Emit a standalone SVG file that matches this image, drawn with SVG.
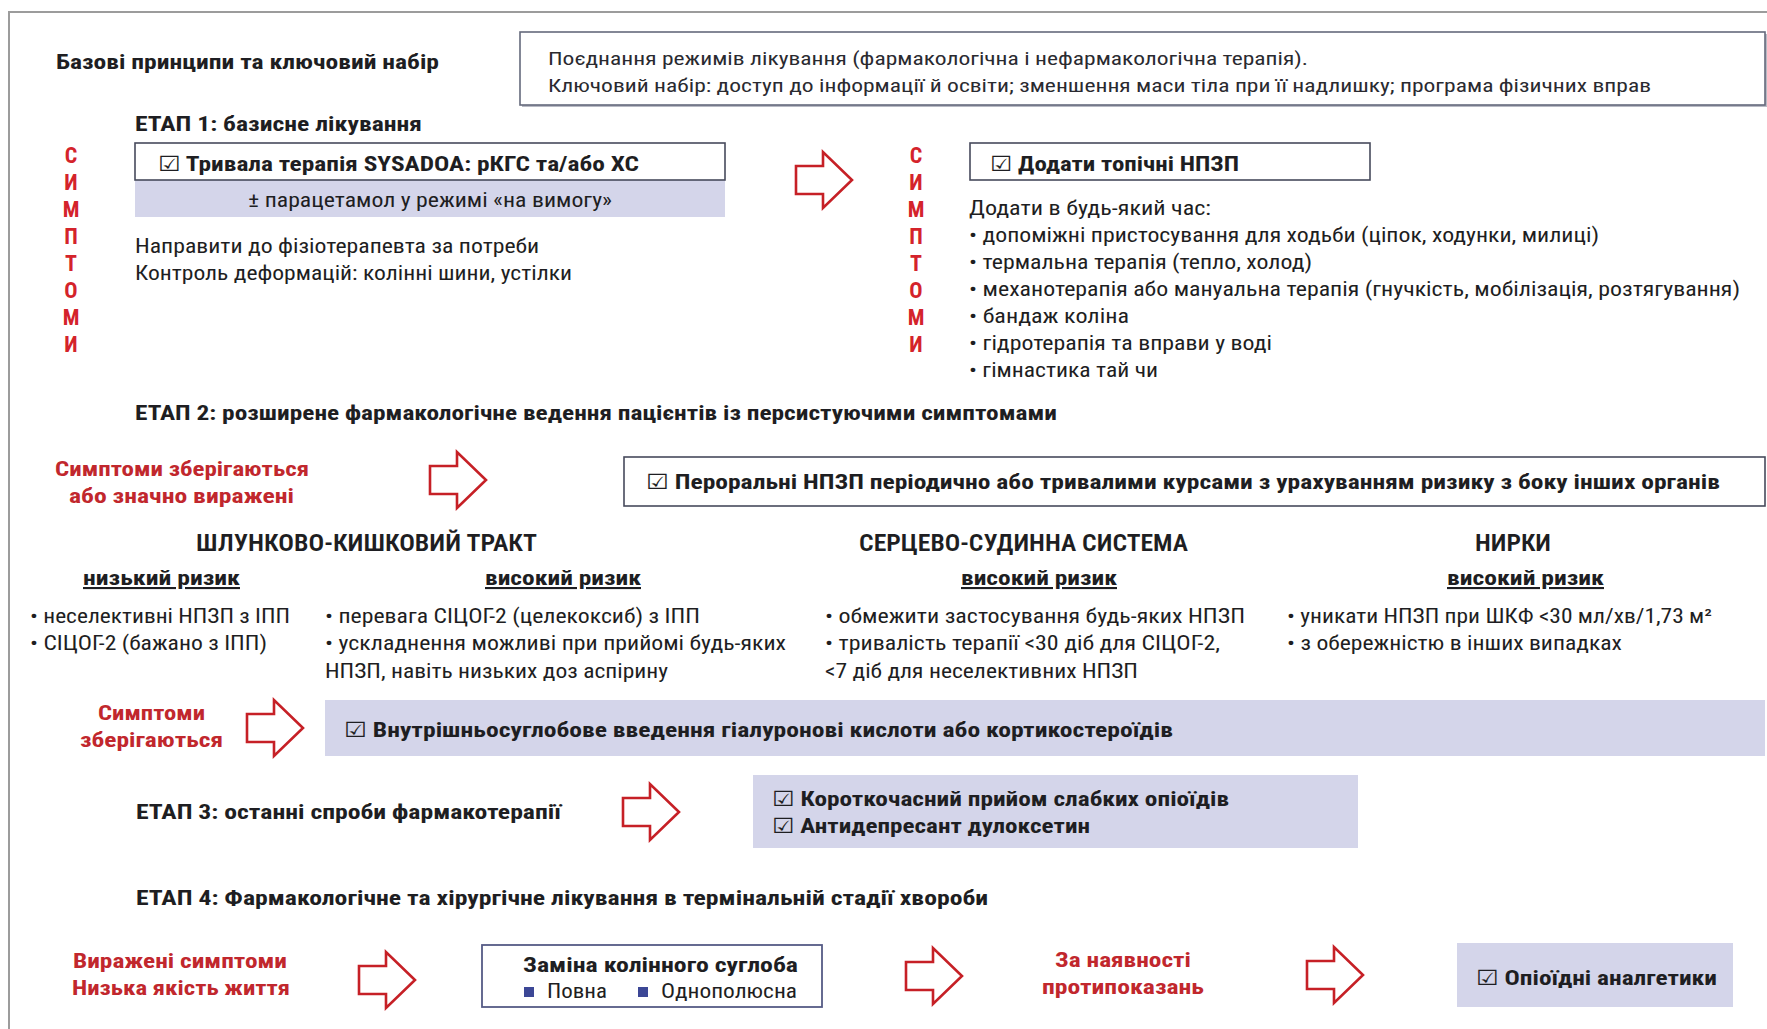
<svg xmlns="http://www.w3.org/2000/svg" xmlns:xlink="http://www.w3.org/1999/xlink" width="1767" height="1029" viewBox="0 0 1767 1029">
<style>
text{font-family:"Roboto Condensed","Liberation Sans Narrow","Roboto","Liberation Sans","DejaVu Sans",sans-serif;fill:#1e1e22}
.r{font-size:20px;font-weight:400}
.t{font-size:19px;font-weight:400;fill:#2a2a30}
.b{font-size:21px;font-weight:700}
.h{font-size:23px;font-weight:600}
.u{font-size:21px;font-weight:700;text-decoration:underline}
.red{font-size:21px;font-weight:700;fill:#c1272d}
.vert{font-size:22px;font-weight:700;fill:#d4232b;text-anchor:middle}
.box{fill:#fff;stroke:#474a5c;stroke-width:1.6}
.lav{fill:#d4d5ea}
.arrow{fill:#fff;stroke:#c62026;stroke-width:2.6;stroke-linejoin:miter}
</style>
<defs>
<path id="arr" class="arrow" d="M0,-14 H27 V-28 L56,0 L27,28 V14 H0 Z"/>
</defs>
<rect width="1767" height="1029" fill="#fff"/>
<path d="M9,1029 V12 H1767" fill="none" stroke="#9c9c9c" stroke-width="2"/>

<g id="title">
<text class="b" x="56" y="69" textLength="383" lengthAdjust="spacingAndGlyphs">Базові принципи та ключовий набір</text>
</g>
<g id="principles">
<rect x="522" y="34" width="1245" height="73" fill="#b8bac4"/>
<rect x="520" y="32" width="1245" height="73" fill="#fff" stroke="#656a7c" stroke-width="1.6"/>
<text class="t" x="548" y="65" textLength="760" lengthAdjust="spacingAndGlyphs">Поєднання режимів лікування (фармакологічна і нефармакологічна терапія).</text>
<text class="t" x="548" y="92" textLength="1103" lengthAdjust="spacingAndGlyphs">Ключовий набір: доступ до інформації й освіти; зменшення маси тіла при її надлишку; програма фізичних вправ</text>
</g>

<g id="stage1-title">
<text class="b" x="135" y="131" textLength="287" lengthAdjust="spacingAndGlyphs">ЕТАП 1: базисне лікування</text>
</g>
<g id="symptoms-left">
<text class="vert" x="71" y="163">С</text>
<text class="vert" x="71" y="190">И</text>
<text class="vert" x="71" y="217">М</text>
<text class="vert" x="71" y="244">П</text>
<text class="vert" x="71" y="271">Т</text>
<text class="vert" x="71" y="298">О</text>
<text class="vert" x="71" y="325">М</text>
<text class="vert" x="71" y="352">И</text>
</g>
<g id="sysadoa">
<rect class="lav" x="135" y="180" width="590" height="37"/>
<rect class="box" x="135" y="143" width="590" height="37"/>
<text class="b" x="158" y="171" textLength="481" lengthAdjust="spacingAndGlyphs">☑ Тривала терапія SYSADOA: рКГС та/або ХС</text>
<text class="r" x="248" y="207" textLength="364" lengthAdjust="spacingAndGlyphs">± парацетамол у режимі «на вимогу»</text>
</g>
<g id="stage1-notes">
<text class="r" x="135" y="253" textLength="404" lengthAdjust="spacingAndGlyphs">Направити до фізіотерапевта за потреби</text>
<text class="r" x="135" y="280" textLength="437" lengthAdjust="spacingAndGlyphs">Контроль деформацій: колінні шини, устілки</text>
</g>
<g id="symptoms-right">
<text class="vert" x="916" y="163">С</text>
<text class="vert" x="916" y="190">И</text>
<text class="vert" x="916" y="217">М</text>
<text class="vert" x="916" y="244">П</text>
<text class="vert" x="916" y="271">Т</text>
<text class="vert" x="916" y="298">О</text>
<text class="vert" x="916" y="325">М</text>
<text class="vert" x="916" y="352">И</text>
</g>
<g id="topical">
<rect class="box" x="970" y="143" width="400" height="37"/>
<text class="b" x="990" y="171" textLength="249" lengthAdjust="spacingAndGlyphs">☑ Додати топічні НПЗП</text>
</g>
<g id="anytime">
<text class="r" x="969" y="215" textLength="242" lengthAdjust="spacingAndGlyphs">Додати в будь-який час:</text>
<text class="r" x="969" y="242" textLength="630" lengthAdjust="spacingAndGlyphs">• допоміжні пристосування для ходьби (ціпок, ходунки, милиці)</text>
<text class="r" x="969" y="269" textLength="343" lengthAdjust="spacingAndGlyphs">• термальна терапія (тепло, холод)</text>
<text class="r" x="969" y="296" textLength="771" lengthAdjust="spacingAndGlyphs">• механотерапія або мануальна терапія (гнучкість, мобілізація, розтягування)</text>
<text class="r" x="969" y="323" textLength="160" lengthAdjust="spacingAndGlyphs">• бандаж коліна</text>
<text class="r" x="969" y="350" textLength="303" lengthAdjust="spacingAndGlyphs">• гідротерапія та вправи у воді</text>
<text class="r" x="969" y="377" textLength="189" lengthAdjust="spacingAndGlyphs">• гімнастика тай чи</text>
</g>

<g id="stage2-title">
<text class="b" x="135" y="420" textLength="922" lengthAdjust="spacingAndGlyphs">ЕТАП 2: розширене фармакологічне ведення пацієнтів із персистуючими симптомами</text>
</g>
<g id="persist1">
<text class="red" x="55" y="476" textLength="254" lengthAdjust="spacingAndGlyphs">Симптоми зберігаються</text>
<text class="red" x="69" y="503" textLength="225" lengthAdjust="spacingAndGlyphs">або значно виражені</text>
</g>
<g id="oral-nsaid">
<rect class="box" x="624" y="457" width="1141" height="49"/>
<text class="b" x="646" y="489" textLength="1074" lengthAdjust="spacingAndGlyphs">☑ Пероральні НПЗП періодично або тривалими курсами з урахуванням ризику з боку інших органів</text>
</g>
<g id="gi">
<text class="h" x="196" y="551" textLength="341" lengthAdjust="spacingAndGlyphs">ШЛУНКОВО-КИШКОВИЙ ТРАКТ</text>
<text class="u" x="83" y="585" textLength="157" lengthAdjust="spacingAndGlyphs">низький ризик</text>
<text class="u" x="485" y="585" textLength="156" lengthAdjust="spacingAndGlyphs">високий ризик</text>
<text class="r" x="30" y="623" textLength="260" lengthAdjust="spacingAndGlyphs">• неселективні НПЗП з ІПП</text>
<text class="r" x="30" y="650" textLength="237" lengthAdjust="spacingAndGlyphs">• СІЦОГ-2 (бажано з ІПП)</text>
<text class="r" x="325" y="623" textLength="375" lengthAdjust="spacingAndGlyphs">• перевага СІЦОГ-2 (целекоксиб) з ІПП</text>
<text class="r" x="325" y="650" textLength="461" lengthAdjust="spacingAndGlyphs">• ускладнення можливі при прийомі будь-яких</text>
<text class="r" x="325" y="678" textLength="343" lengthAdjust="spacingAndGlyphs">НПЗП, навіть низьких доз аспірину</text>
</g>
<g id="cv">
<text class="h" x="859" y="551" textLength="329" lengthAdjust="spacingAndGlyphs">СЕРЦЕВО-СУДИННА СИСТЕМА</text>
<text class="u" x="961" y="585" textLength="156" lengthAdjust="spacingAndGlyphs">високий ризик</text>
<text class="r" x="825" y="623" textLength="420" lengthAdjust="spacingAndGlyphs">• обмежити застосування будь-яких НПЗП</text>
<text class="r" x="825" y="650" textLength="395" lengthAdjust="spacingAndGlyphs">• тривалість терапії &lt;30 діб для СІЦОГ-2,</text>
<text class="r" x="825" y="678" textLength="313" lengthAdjust="spacingAndGlyphs">&lt;7 діб для неселективних НПЗП</text>
</g>
<g id="kidney">
<text class="h" x="1475" y="551" textLength="76" lengthAdjust="spacingAndGlyphs">НИРКИ</text>
<text class="u" x="1447" y="585" textLength="157" lengthAdjust="spacingAndGlyphs">високий ризик</text>
<text class="r" x="1287" y="623" textLength="425" lengthAdjust="spacingAndGlyphs">• уникати НПЗП при ШКФ &lt;30 мл/хв/1,73 м²</text>
<text class="r" x="1287" y="650" textLength="335" lengthAdjust="spacingAndGlyphs">• з обережністю в інших випадках</text>
</g>
<g id="persist2">
<text class="red" x="98" y="720" textLength="107" lengthAdjust="spacingAndGlyphs">Симптоми</text>
<text class="red" x="80" y="747" textLength="143" lengthAdjust="spacingAndGlyphs">зберігаються</text>
</g>
<g id="intraarticular">
<rect class="lav" x="325" y="700" width="1440" height="56"/>
<text class="b" x="344" y="737" textLength="829" lengthAdjust="spacingAndGlyphs">☑ Внутрішньосуглобове введення гіалуронові кислоти або кортикостероїдів</text>
</g>

<g id="stage3-title">
<text class="b" x="136" y="819" textLength="425" lengthAdjust="spacingAndGlyphs">ЕТАП 3: останні спроби фармакотерапії</text>
</g>
<g id="opioids-weak">
<rect class="lav" x="753" y="775" width="605" height="73"/>
<text class="b" x="772" y="806" textLength="457" lengthAdjust="spacingAndGlyphs">☑ Короткочасний прийом слабких опіоїдів</text>
<text class="b" x="772" y="833" textLength="318" lengthAdjust="spacingAndGlyphs">☑ Антидепресант дулоксетин</text>
</g>

<g id="stage4-title">
<text class="b" x="136" y="905" textLength="852" lengthAdjust="spacingAndGlyphs">ЕТАП 4: Фармакологічне та хірургічне лікування в термінальній стадії хвороби</text>
</g>
<g id="severe">
<text class="red" x="73" y="968" textLength="214" lengthAdjust="spacingAndGlyphs">Виражені симптоми</text>
<text class="red" x="72" y="995" textLength="218" lengthAdjust="spacingAndGlyphs">Низька якість життя</text>
</g>
<g id="knee-replacement">
<rect x="482" y="945" width="340" height="62" fill="#fff" stroke="#565b86" stroke-width="1.8"/>
<text class="b" x="523" y="972" textLength="275" lengthAdjust="spacingAndGlyphs">Заміна колінного суглоба</text>
<rect x="524" y="987" width="10" height="10" fill="#3c4796"/>
<text class="r" x="547" y="998" textLength="60" lengthAdjust="spacingAndGlyphs">Повна</text>
<rect x="638" y="987" width="10" height="10" fill="#3c4796"/>
<text class="r" x="661" y="998" textLength="136" lengthAdjust="spacingAndGlyphs">Однополюсна</text>
</g>
<g id="contraindications">
<text class="red" x="1055" y="967" textLength="136" lengthAdjust="spacingAndGlyphs">За наявності</text>
<text class="red" x="1042" y="994" textLength="162" lengthAdjust="spacingAndGlyphs">протипоказань</text>
</g>
<g id="opioids">
<rect class="lav" x="1457" y="943" width="276" height="64"/>
<text class="b" x="1476" y="985" textLength="241" lengthAdjust="spacingAndGlyphs">☑ Опіоїдні аналгетики</text>
</g>

<g id="connectors">
<use xlink:href="#arr" x="796" y="180"/>
<use xlink:href="#arr" x="430" y="480"/>
<use xlink:href="#arr" x="247" y="728"/>
<use xlink:href="#arr" x="623" y="812"/>
<use xlink:href="#arr" x="359" y="980"/>
<use xlink:href="#arr" x="906" y="976"/>
<use xlink:href="#arr" x="1307" y="975"/>
</g>
</svg>
